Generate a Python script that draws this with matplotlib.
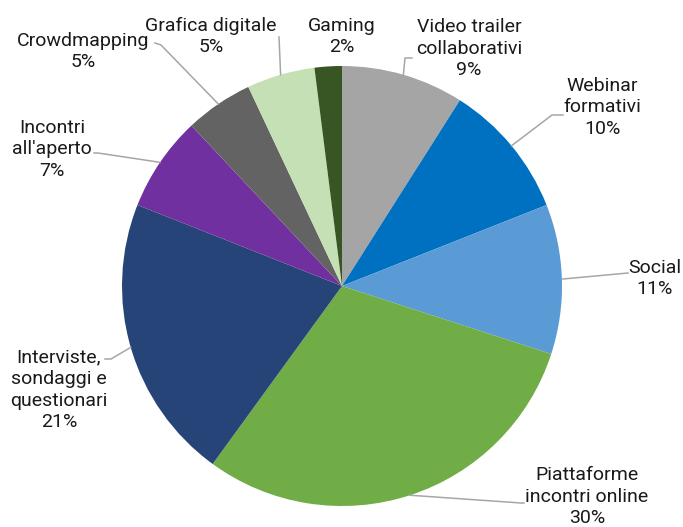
import numpy as np
import matplotlib
matplotlib.use("Agg")
import matplotlib.pyplot as plt

plt.rcParams["font.family"] = ["Roboto", "DejaVu Sans"]

categories = ["Video trailer\ncollaborativi", "Webinar\nformativi", "Social",
              "Piattaforme\nincontri online", "Interviste,\nsondaggi e\nquestionari",
              "Incontri\nall'aperto", "Crowdmapping", "Grafica digitale", "Gaming"]
shares = [9, 10, 11, 30, 21, 7, 5, 5, 2]
colors = ["#A5A5A5", "#0070C0", "#5B9BD5", "#70AD47", "#264478",
          "#7030A0", "#636363", "#C5E0B4", "#375623"]

W, H = 683, 527
CX, CY, R = 342, 286, 220  # pie centre / radius in pixels (y from top)

# label block centres and leader elbows, pixel coords (y from top)
label_pos = [(469, 48.5), (602, 107.5), (655, 278.5), (587, 496.5), (59, 390),
             (52, 149.5), (83, 51.5), (211, 36.5), (342, 36.5)]
leaders = [[(405, 58), (412, 58)], [(552, 115), (563, 115)], [(628, 273)],
           [(521, 503), (524, 503)], [(111, 359), (105, 359)], [(98, 153), (94, 153)],
           [(161, 45), (155, 43)], [(279, 37)], []]

fig = plt.figure(figsize=(W / 100, H / 100), dpi=100)
ax = fig.add_axes([0, 0, 1, 1])
wedges, _ = ax.pie(shares, colors=colors, startangle=90, counterclock=False,
                   center=(CX, H - CY), radius=R, wedgeprops=dict(linewidth=0))
ax.set_xlim(0, W); ax.set_ylim(0, H); ax.axis("off")

for w, lab, s, (tx, ty), pts in zip(wedges, categories, shares, label_pos, leaders):
    if pts:
        a = np.deg2rad((w.theta1 + w.theta2) / 2)
        xs = [CX + R * np.cos(a)] + [p[0] for p in pts]
        ys = [H - CY + R * np.sin(a)] + [H - p[1] for p in pts]
        ax.plot(xs, ys, color="#A6A6A6", lw=1.1, zorder=1)
    ax.text(tx, H - ty, f"{lab}\n{s}%", ha="center", va="center", fontsize=14,
            color="#1a1a1a", multialignment="center", linespacing=1.25)

fig.savefig("out.png", dpi=100)
